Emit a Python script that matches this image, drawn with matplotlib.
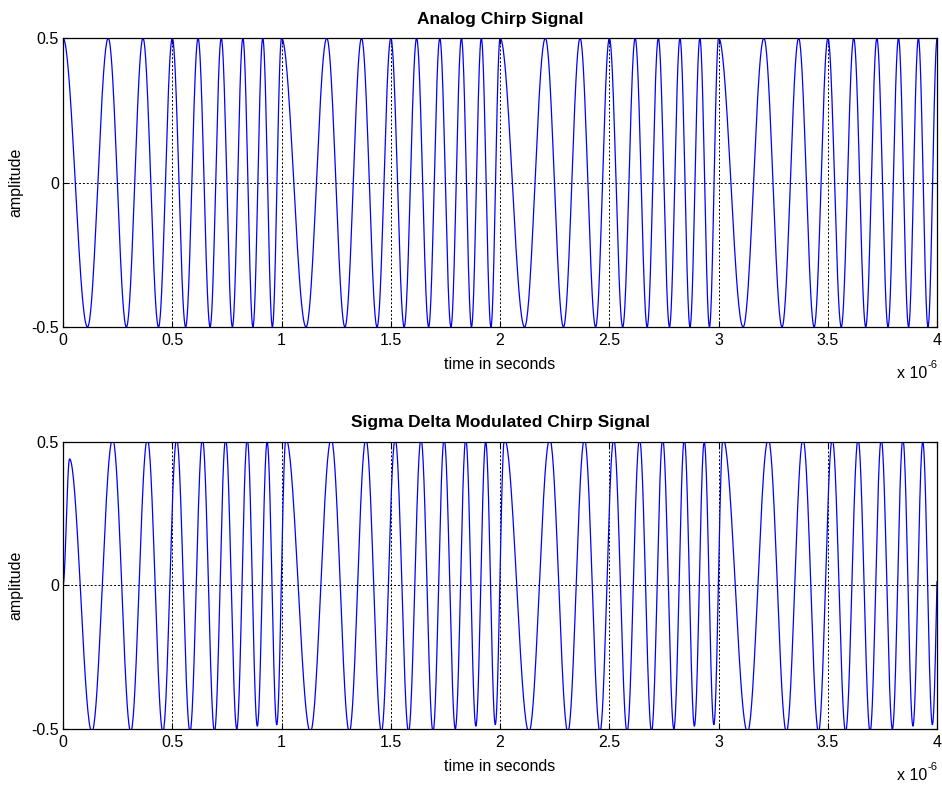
import numpy as np
import matplotlib.pyplot as plt

# extrema of one 1 us sweep (times in us, relative to sweep start)
sweep_len = 1.0
n_sweeps = 4
analog_peak_t = [0.0, 0.207, 0.366, 0.5, 0.618, 0.724, 0.823, 0.914]
analog_trough_t = [0.112, 0.29, 0.437, 0.561, 0.673, 0.775, 0.869, 0.958]
analog_amp = 0.5

sd_peak_t = [0.227, 0.386, 0.52, 0.638, 0.744, 0.843, 0.934, 1.02]
sd_trough_t = [0.132, 0.31, 0.457, 0.581, 0.693, 0.795, 0.889, 0.978]
sd_peak_v = [0.51, 0.51, 0.51, 0.51, 0.51, 0.51, 0.5, 0.51]
sd_trough_v = [-0.51, -0.51, -0.51, -0.51, -0.51, -0.5, -0.49, -0.485]
sd_start_t = [0.0, 0.03]
sd_start_v = [0.0, 0.44]

t_end = 4.0
xticks = [0, 0.5, 1, 1.5, 2, 2.5, 3, 3.5, 4]
xticklabels = ['0', '0.5', '1', '1.5', '2', '2.5', '3', '3.5', '4']
yticks = [-0.5, 0, 0.5]
yticklabels = ['-0.5', '0', '0.5']


def extrema_analog():
    pts = []
    for k in range(n_sweeps):
        for tp in analog_peak_t:
            pts.append((k * sweep_len + tp, analog_amp))
        for tt in analog_trough_t:
            pts.append((k * sweep_len + tt, -analog_amp))
    pts.append((t_end, analog_amp))
    return sorted(pts)


def extrema_sd():
    pts = list(zip(sd_start_t, sd_start_v))
    for k in range(n_sweeps):
        for tp, vp in zip(sd_peak_t, sd_peak_v):
            pts.append((k * sweep_len + tp, vp))
        for tt, vt in zip(sd_trough_t, sd_trough_v):
            pts.append((k * sweep_len + tt, vt))
    return sorted(pts)


def trace(pts, n=40):
    # smooth half-cosine between consecutive read extrema
    ts, ys = [], []
    for (ta, va), (tb, vb) in zip(pts[:-1], pts[1:]):
        s = np.linspace(0, 1, n, endpoint=False)
        ts.append(ta + s * (tb - ta))
        ys.append(va + (vb - va) * (1 - np.cos(np.pi * s)) / 2)
    ts.append([pts[-1][0]])
    ys.append([pts[-1][1]])
    t = np.concatenate(ts)
    y = np.concatenate(ys)
    keep = t <= t_end
    return t[keep], y[keep]


plt.rcParams['font.family'] = ['Liberation Sans', 'DejaVu Sans']

fig = plt.figure(figsize=(9.42, 7.87), dpi=100)
ax1 = fig.add_axes([0.0669, 0.5845, 0.928, 0.367])
ax2 = fig.add_axes([0.0669, 0.0737, 0.928, 0.365])

panels = [
    (ax1, extrema_analog(), 'Analog Chirp Signal'),
    (ax2, extrema_sd(), 'Sigma Delta Modulated Chirp Signal'),
]

for ax, pts, title in panels:
    t, y = trace(pts)
    ax.plot(t, y, color='#0000ff', linewidth=0.9)
    ax.set_xlim(0, t_end)
    ax.set_ylim(-0.5, 0.5)
    ax.set_xticks(xticks)
    ax.set_xticklabels(xticklabels)
    ax.set_yticks(yticks)
    ax.set_yticklabels(yticklabels)
    ax.tick_params(direction='in', length=4, width=0.8, top=True, right=True,
                   labelsize=11.5)
    ax.tick_params(axis='x', pad=4.5)
    ax.tick_params(axis='y', pad=3)
    ax.grid(True, color='black', linestyle=(0, (2, 2)), linewidth=0.7)
    for sp in ax.spines.values():
        sp.set_linewidth(0.9)
    ax.set_title(title, fontsize=12.5, fontweight='bold', pad=10.5)
    ax.set_xlabel('time in seconds', fontsize=11.5, labelpad=6)
    ax.set_ylabel('amplitude', fontsize=11.5, labelpad=6)
    # MATLAB style exponent under the right end of the x axis
    ax.annotate('x 10', xy=(1, 0), xycoords='axes fraction', xytext=(-10, -47),
                textcoords='offset pixels', ha='right', va='center', fontsize=11.5)
    ax.annotate('-6', xy=(1, 0), xycoords='axes fraction', xytext=(-10, -38),
                textcoords='offset pixels', ha='left', va='center', fontsize=8)

fig.savefig('out.png', dpi=100)
